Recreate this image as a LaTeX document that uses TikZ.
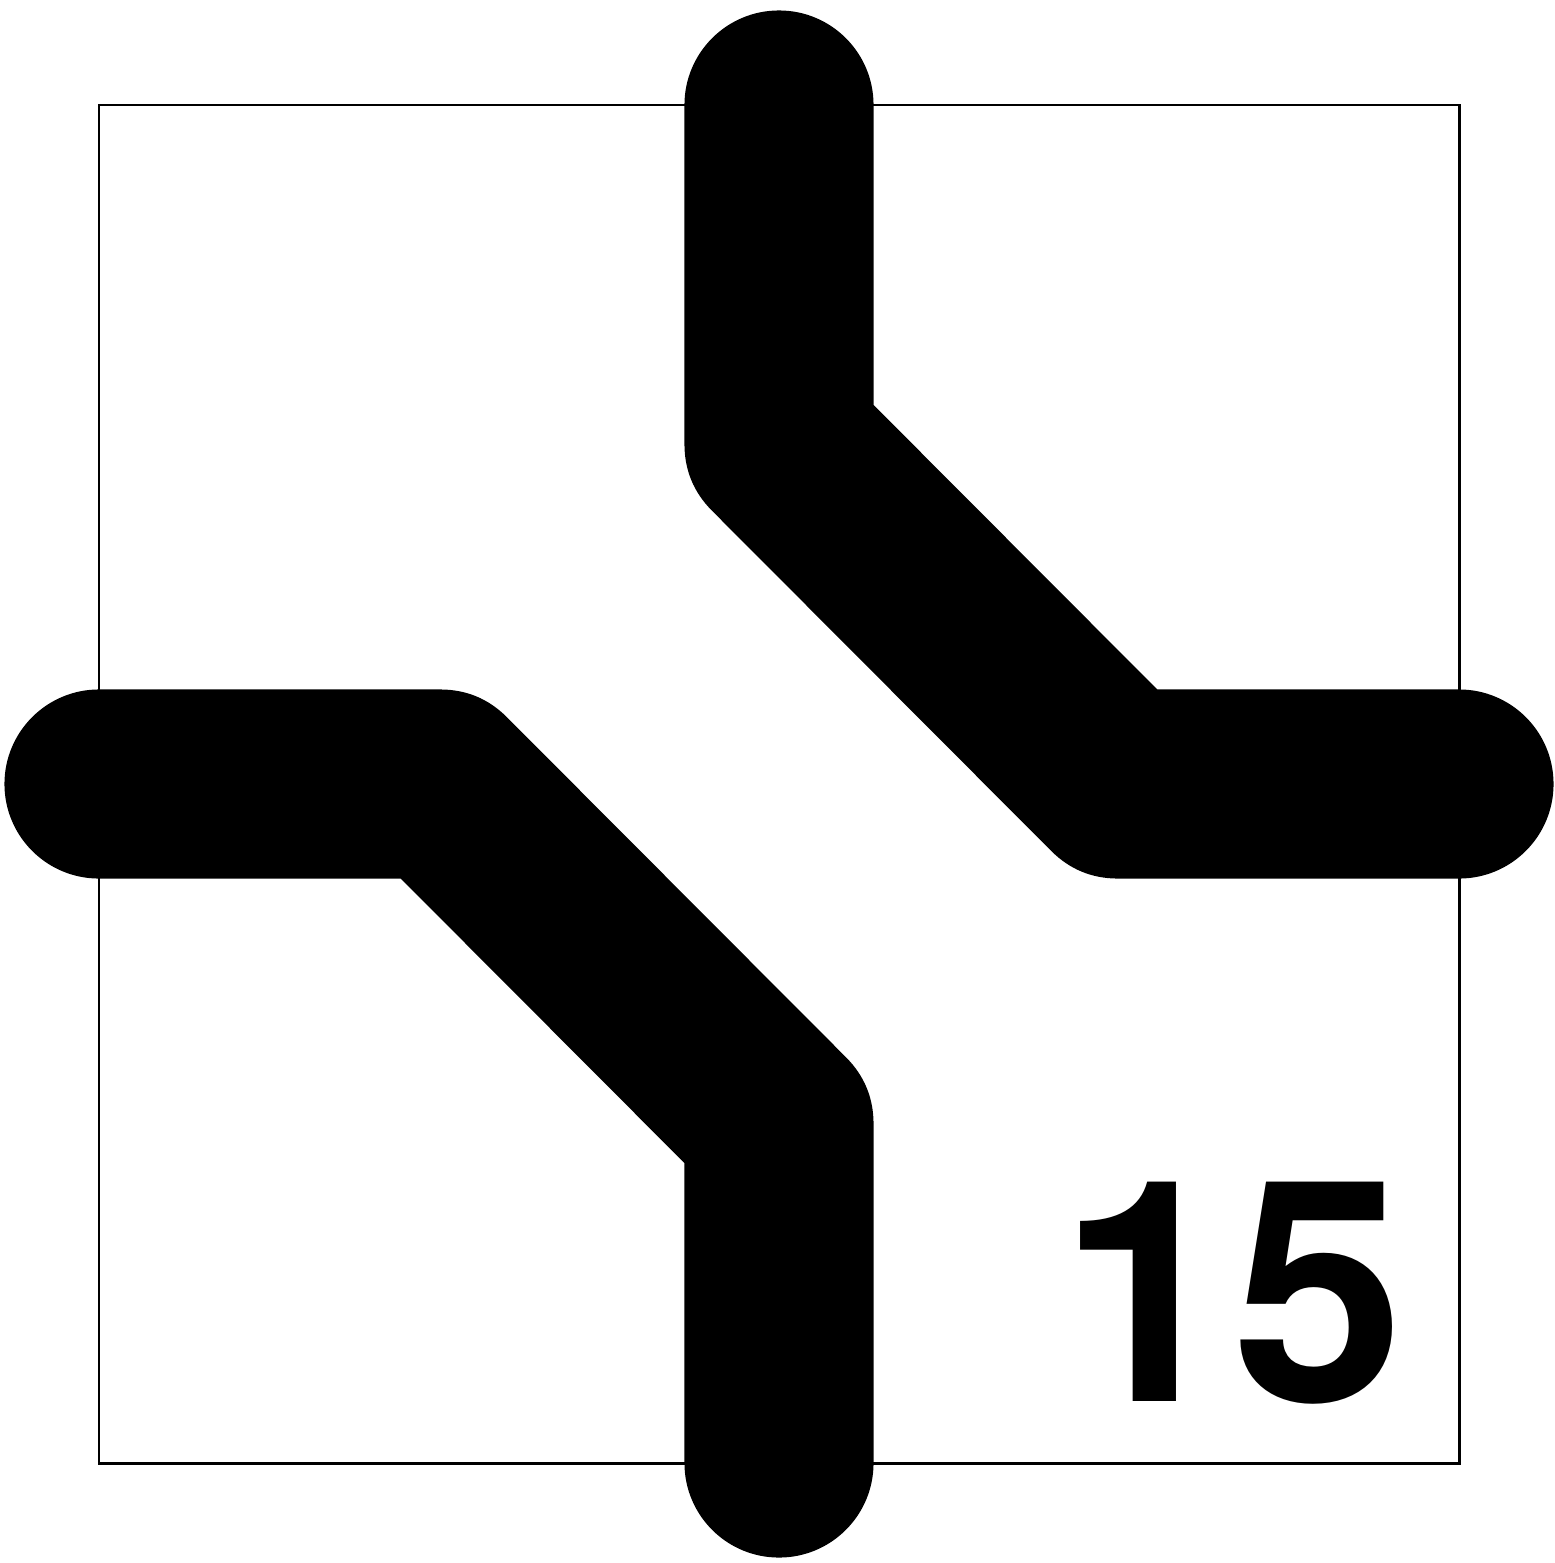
\documentclass[tikz,border=0pt]{standalone}
\usepackage{fontspec}
\setmainfont{TeX Gyre Heros}
\usetikzlibrary{positioning}

\begin{document}
\begin{tikzpicture}[
    x=0.01cm, y=-0.01cm,
    tile/.style={draw=black, line width=0.85pt},
    track/.style={draw=black, line width=1.89cm, line cap=round, line join=round},
    num/.style={font=\bfseries\fontsize{88}{88}\selectfont, inner sep=0pt}
  ]
  \useasboundingbox (0,0) rectangle (1555,1563);
  \draw[tile] (99,105) rectangle (1459,1463);

  % upper track: north edge to east edge
  \coordinate (north) at (779,105);
  \coordinate (northbend) at (779,444);
  \coordinate (eastbend) at (1118,784);
  \coordinate (east) at (1459,784);
  % lower track: west edge to south edge
  \coordinate (west) at (99,784);
  \coordinate (westbend) at (440,784);
  \coordinate (southbend) at (779,1124);
  \coordinate (south) at (779,1463);

  \draw[track] (north) -- (northbend) -- (eastbend) -- (east);
  \draw[track] (west) -- (westbend) -- (southbend) -- (south);

  \node[num] (label) at (1232,1293) {15};
\end{tikzpicture}
\end{document}
